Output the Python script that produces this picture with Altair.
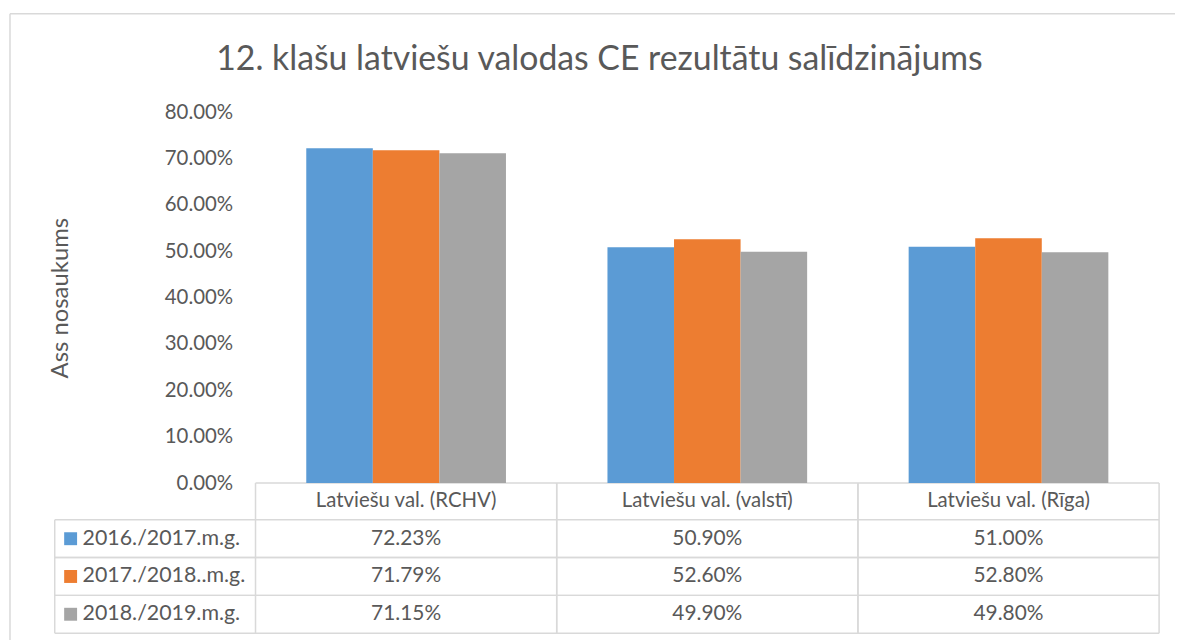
import altair as alt
import pandas as pd

# ---- data ----
title_text = "12. klašu latviešu valodas CE rezultātu salīdzinājums"
axis_title = "Ass nosaukums"
categories = ["Latviešu val. (RCHV)", "Latviešu val. (valstī)", "Latviešu val. (Rīga)"]
series = ["2016./2017.m.g.", "2017./2018..m.g.", "2018./2019.m.g."]
values_2016_2017 = [0.7223, 0.5090, 0.5100]
values_2017_2018 = [0.7179, 0.5260, 0.5280]
values_2018_2019 = [0.7115, 0.4990, 0.4980]
colors = ["#5B9BD5", "#ED7D31", "#A5A5A5"]
y_ticks = [0.0, 0.1, 0.2, 0.3, 0.4, 0.5, 0.6, 0.7, 0.8]

rows = []
for s, vals in zip(series, [values_2016_2017, values_2017_2018, values_2018_2019]):
    for c, v in zip(categories, vals):
        rows.append({"category": c, "series": s, "value": v})
df = pd.DataFrame(rows)
cat_df = pd.DataFrame({"category": categories})
ser_df = pd.DataFrame({"series": series})
one = pd.DataFrame({"k": [0]})

# ---- layout ----
W = 909
PLOT_H = 373
HEADER_H = 37
H = 524
TXT = "#595959"
LINE = "#d9d9d9"
FONT = "Lato"

color_scale = alt.Scale(domain=series, range=colors)
bar_x = alt.Scale(domain=categories, paddingInner=0.337, paddingOuter=0.1685)
tab_x = alt.Scale(type="band", domain=categories, paddingInner=0, paddingOuter=0)
row_y = alt.Scale(type="band", domain=series, range=[PLOT_H + HEADER_H, H],
                  paddingInner=0, paddingOuter=0)

bars = alt.Chart(df).mark_bar().encode(
    x=alt.X("category:N", sort=categories, scale=bar_x, axis=None),
    xOffset=alt.XOffset("series:N", sort=series, scale=alt.Scale(paddingInner=0)),
    y=alt.Y("value:Q", scale=alt.Scale(domain=[0, 0.8], range=[PLOT_H, 0]),
            axis=alt.Axis(values=y_ticks, format=".2%", title=axis_title,
                          labelFontSize=20.5, labelColor=TXT, labelFont=FONT,
                          labelPadding=23, ticks=False, tickSize=0, domain=False,
                          gridColor=LINE, gridWidth=1.3,
                          titleFontSize=24, titleFont=FONT, titleColor=TXT,
                          titleFontWeight="normal", titleX=-196, titleY=PLOT_H / 2,
                          titleAngle=-90, titleAlign="center", titleBaseline="middle")),
    color=alt.Color("series:N", scale=color_scale, legend=None),
)

title = alt.Chart(one).mark_text(fontSize=34, font=FONT, color=TXT, align="center",
                                 baseline="alphabetic").encode(
    x=alt.value(346), y=alt.value(-43), text=alt.value(title_text))

header = alt.Chart(cat_df).mark_text(fontSize=20.5, font=FONT, color=TXT, baseline="middle").encode(
    x=alt.X("category:N", scale=tab_x, axis=None),
    y=alt.value(PLOT_H + HEADER_H / 2),
    text="category:N",
)

cells = alt.Chart(df).mark_text(fontSize=21, font=FONT, color=TXT, baseline="middle").encode(
    x=alt.X("category:N", scale=tab_x, axis=None),
    y=alt.Y("series:N", scale=row_y, axis=None),
    text=alt.Text("value:Q", format=".2%"),
)

legend_text = alt.Chart(ser_df).mark_text(fontSize=21.5, font=FONT, color=TXT, align="left",
                                          baseline="middle").encode(
    x=alt.value(-174),
    y=alt.Y("series:N", scale=row_y, axis=None),
    text="series:N",
)

squares = alt.Chart(ser_df).mark_square(size=169, opacity=1).encode(
    x=alt.value(-186),
    y=alt.Y("series:N", scale=row_y, axis=None),
    color=alt.Color("series:N", scale=color_scale, legend=None),
)

rule_style = dict(color=LINE, strokeWidth=1.5)

h_top = alt.Chart(ser_df).mark_rule(**rule_style).encode(
    y=alt.Y("series:N", scale=row_y, axis=None, bandPosition=0),
    x=alt.value(-202), x2=alt.value(W))
h_bot = alt.Chart(ser_df).mark_rule(**rule_style).encode(
    y=alt.Y("series:N", scale=row_y, axis=None, bandPosition=1),
    x=alt.value(-202), x2=alt.value(W))
table_top = alt.Chart(one).mark_rule(**rule_style).encode(
    x=alt.value(0), x2=alt.value(W), y=alt.value(PLOT_H))
v_left = alt.Chart(cat_df).mark_rule(**rule_style).encode(
    x=alt.X("category:N", scale=tab_x, axis=None, bandPosition=0),
    y=alt.value(PLOT_H), y2=alt.value(H))
v_right = alt.Chart(cat_df).mark_rule(**rule_style).encode(
    x=alt.X("category:N", scale=tab_x, axis=None, bandPosition=1),
    y=alt.value(PLOT_H), y2=alt.value(H))
v_legend = alt.Chart(one).mark_rule(**rule_style).encode(
    x=alt.value(-202), y=alt.value(PLOT_H + HEADER_H), y2=alt.value(H))

border_top = alt.Chart(one).mark_rule(**rule_style).encode(
    x=alt.value(-247), x2=alt.value(W + 20), y=alt.value(-99))
border_left = alt.Chart(one).mark_rule(**rule_style).encode(
    x=alt.value(-247), y=alt.value(-99), y2=alt.value(H + 10))

table = alt.layer(border_top, border_left, h_top, h_bot, table_top, v_left, v_right,
                  v_legend, header, cells, legend_text, squares, title)

chart = alt.layer(table, bars).resolve_scale(
    x="independent", y="independent"
).properties(
    width=W, height=H,
    autosize=alt.AutoSizeParams(type="none"),
    padding={"left": 249, "top": 103, "right": 16, "bottom": 5},
).configure(font=FONT).configure_view(stroke=None)

chart.save("out.html", embed_options={"renderer": "svg", "actions": False})
